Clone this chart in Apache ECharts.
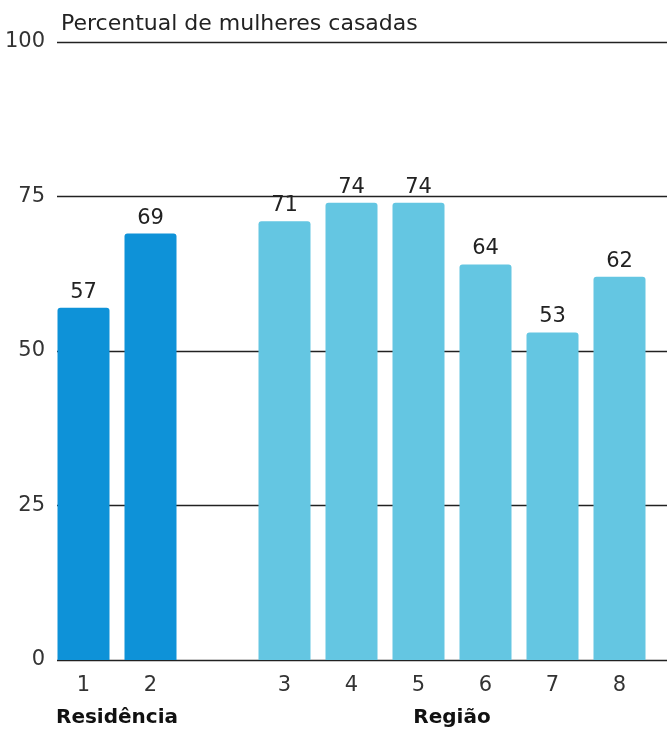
<!DOCTYPE html>
<html>
<head>
<meta charset="utf-8">
<script src="https://cdn.jsdelivr.net/npm/echarts@6/dist/echarts.min.js"></script>
<style>
  html, body { margin: 0; padding: 0; background: #fff; }
  #chart { width: 667px; height: 737px; }
</style>
</head>
<body>
<div id="chart"></div>
<script>
// Categories along the x axis (an empty slot separates the two groups)
const categories = ['1', '2', '', '3', '4', '5', '6', '7', '8'];
// Percent of married women for each category
const values = [57, 69, null, 71, 74, 74, 64, 53, 62];
// Which group each bar belongs to
const groupOf = ['res', 'res', null, 'reg', 'reg', 'reg', 'reg', 'reg', 'reg'];
// Y axis ticks
const yTicks = [0, 25, 50, 75, 100];
// Group captions and the category ranges they span
const groups = [
  { name: 'Residência', from: 0, to: 1 },
  { name: 'Região', from: 3, to: 8 }
];

const colors = { res: '#0e92d8', reg: '#64c6e2' };
const FONT = '"DejaVu Sans", "Liberation Sans", Arial, sans-serif';

const chart = echarts.init(document.getElementById('chart'));

const option = {
  animation: false,
  textStyle: { fontFamily: FONT },
  title: {
    text: 'Percentual de mulheres casadas',
    left: 56, top: 8,
    textStyle: { fontFamily: FONT, fontSize: 22, fontWeight: 'normal', color: '#222' }
  },
  grid: [
    // bars
    { left: 50, right: 14, top: 42, bottom: 77 },
    // horizontal rules and y labels
    { left: 57, right: 0, top: 42, bottom: 77 }
  ],
  xAxis: [
    {
      type: 'category', gridIndex: 0, data: categories,
      axisLine: { show: false }, axisTick: { show: false },
      axisLabel: { margin: 15, fontSize: 21, color: '#333', fontFamily: FONT }
    },
    {
      type: 'value', gridIndex: 1, min: 0, max: 1, show: false
    }
  ],
  yAxis: [
    {
      type: 'value', gridIndex: 0, min: 0, max: 100, interval: 25, show: false
    },
    {
      type: 'value', gridIndex: 1, min: yTicks[0], max: yTicks[yTicks.length - 1], interval: 25,
      axisLine: { show: false }, axisTick: { show: false },
      axisLabel: { margin: 12, fontSize: 21, color: '#333', fontFamily: FONT },
      splitLine: { lineStyle: { color: '#222', width: 1.4 } }
    }
  ],
  series: [
    {
      type: 'bar', xAxisIndex: 0, yAxisIndex: 0,
      barWidth: 52,
      data: values.map((v, i) => v == null ? null : {
        value: v,
        itemStyle: { color: colors[groupOf[i]], borderRadius: [3, 3, 0, 0] }
      }),
      label: {
        show: true, position: 'top', distance: 5,
        fontSize: 21, color: '#222', fontFamily: FONT
      }
    }
  ]
};

chart.setOption(option);

// Group captions centred under their categories
const captionY = chart.convertToPixel({ gridIndex: 0 }, [0, 0])[1] + 58;
chart.setOption({
  graphic: groups.map(g => {
    const x0 = chart.convertToPixel({ xAxisIndex: 0 }, g.from);
    const x1 = chart.convertToPixel({ xAxisIndex: 0 }, g.to);
    return {
      type: 'text',
      x: (x0 + x1) / 2, y: captionY,
      style: {
        text: g.name, align: 'center', verticalAlign: 'middle',
        font: 'bold 20px ' + FONT, fill: '#111'
      }
    };
  })
});
</script>
</body>
</html>
